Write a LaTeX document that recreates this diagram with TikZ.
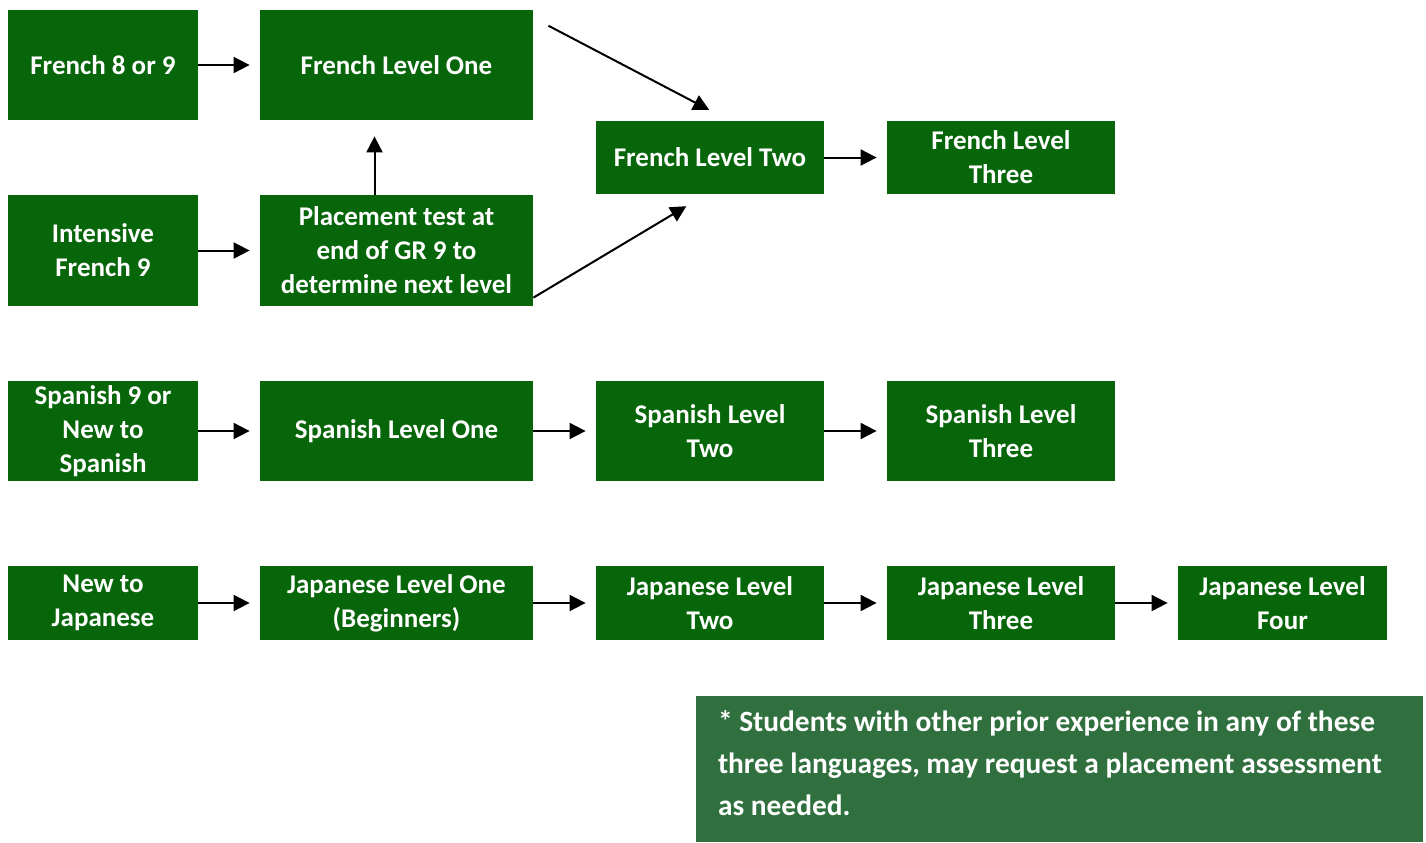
\documentclass[tikz,border=0pt]{standalone}
\usepackage{fontspec}
\setmainfont{Carlito}
\usetikzlibrary{arrows.meta}
\definecolor{boxgreen}{RGB}{8,102,10}
\definecolor{notegreen}{RGB}{48,112,62}

\begin{document}
\begin{tikzpicture}[x=0.5pt,y=-0.5pt,
    course/.style ={rectangle, fill=boxgreen, text=white, inner sep=0pt, align=center,
      font=\bfseries\fontsize{13.5}{17}\selectfont},
    entry/.style ={course, minimum width=95pt},
    wide/.style ={course, minimum width=136.5pt},
    level/.style ={course, minimum width=114pt},
    note/.style ={rectangle, fill=notegreen, text=white, inner xsep=11pt, inner ysep=0pt,
      align=flush left, text width=341.5pt, minimum width=363.5pt, minimum height=73pt,
      font=\bfseries\fontsize{14.7}{21}\selectfont},
    link/.style ={-{Triangle[length=8pt,width=8pt]}, line width=1pt, shorten >=5pt}]
   \useasboundingbox (0,0) rectangle (1426,842);
   % French
   \node[entry, minimum height=55pt] (F0) at (103,65) {French 8 or 9};
   \node[wide, minimum height=55pt] (F1) at (396.5,65) {French Level One};
   \node[level, minimum height=36.5pt] (F2) at (710,157.5) {French Level Two};
   \node[level, minimum height=36.5pt] (F3) at (1001,157.5) {French Level\\Three};
   \node[entry, minimum height=55.5pt] (I9) at (103,250.5) {Intensive\\French 9};
   \node[wide, minimum height=55.5pt] (P) at (396.5,250.5) {Placement test at\\end of GR 9 to\\determine next level};
   % Spanish
   \node[entry, minimum height=50pt] (S0) at (103,431) {Spanish 9 or\\New to\\Spanish};
   \node[wide, minimum height=50pt] (S1) at (396.5,431) {Spanish Level One};
   \node[level, minimum height=50pt] (S2) at (710,431) {Spanish Level\\Two};
   \node[level, minimum height=50pt] (S3) at (1001,431) {Spanish Level\\Three};
   % Japanese
   \node[entry, minimum height=37pt] (J0) at (103,603) {New to\\Japanese};
   \node[wide, minimum height=37pt] (J1) at (396.5,603) {Japanese Level One\\(Beginners)};
   \node[level, minimum height=37pt] (J2) at (710,603) {Japanese Level\\Two};
   \node[level, minimum height=37pt] (J3) at (1001,603) {Japanese Level\\Three};
   \node[course, minimum width=104.5pt, minimum height=37pt] (J4) at (1282.5,603) {Japanese Level\\Four};
   \node[note] (N) at (1059.5,769) {* Students with other prior experience in any of these\\three languages, may request a placement assessment\\as needed.\par\vspace{6pt}};
   \draw[link] (F0) to (F1);
   \draw[link, shorten <=8.5pt, shorten >=11.5pt] (F1.19) to (F2.62);
   \draw[link] (F2) to (F3);
   \draw[link] (I9) to (P);
   \draw[link, shorten >=8pt] ([xshift=-11pt]P.north) to ([xshift=-11pt]F1.south);
   \draw[link, shorten >=11.5pt] (P.-19) to (F2.-96);
   \draw[link] (S0) to (S1);
   \draw[link] (S1) to (S2);
   \draw[link] (S2) to (S3);
   \draw[link] (J0) to (J1);
   \draw[link] (J1) to (J2);
   \draw[link] (J2) to (J3);
   \draw[link] (J3) to (J4);
 \end{tikzpicture}
\end{document}
